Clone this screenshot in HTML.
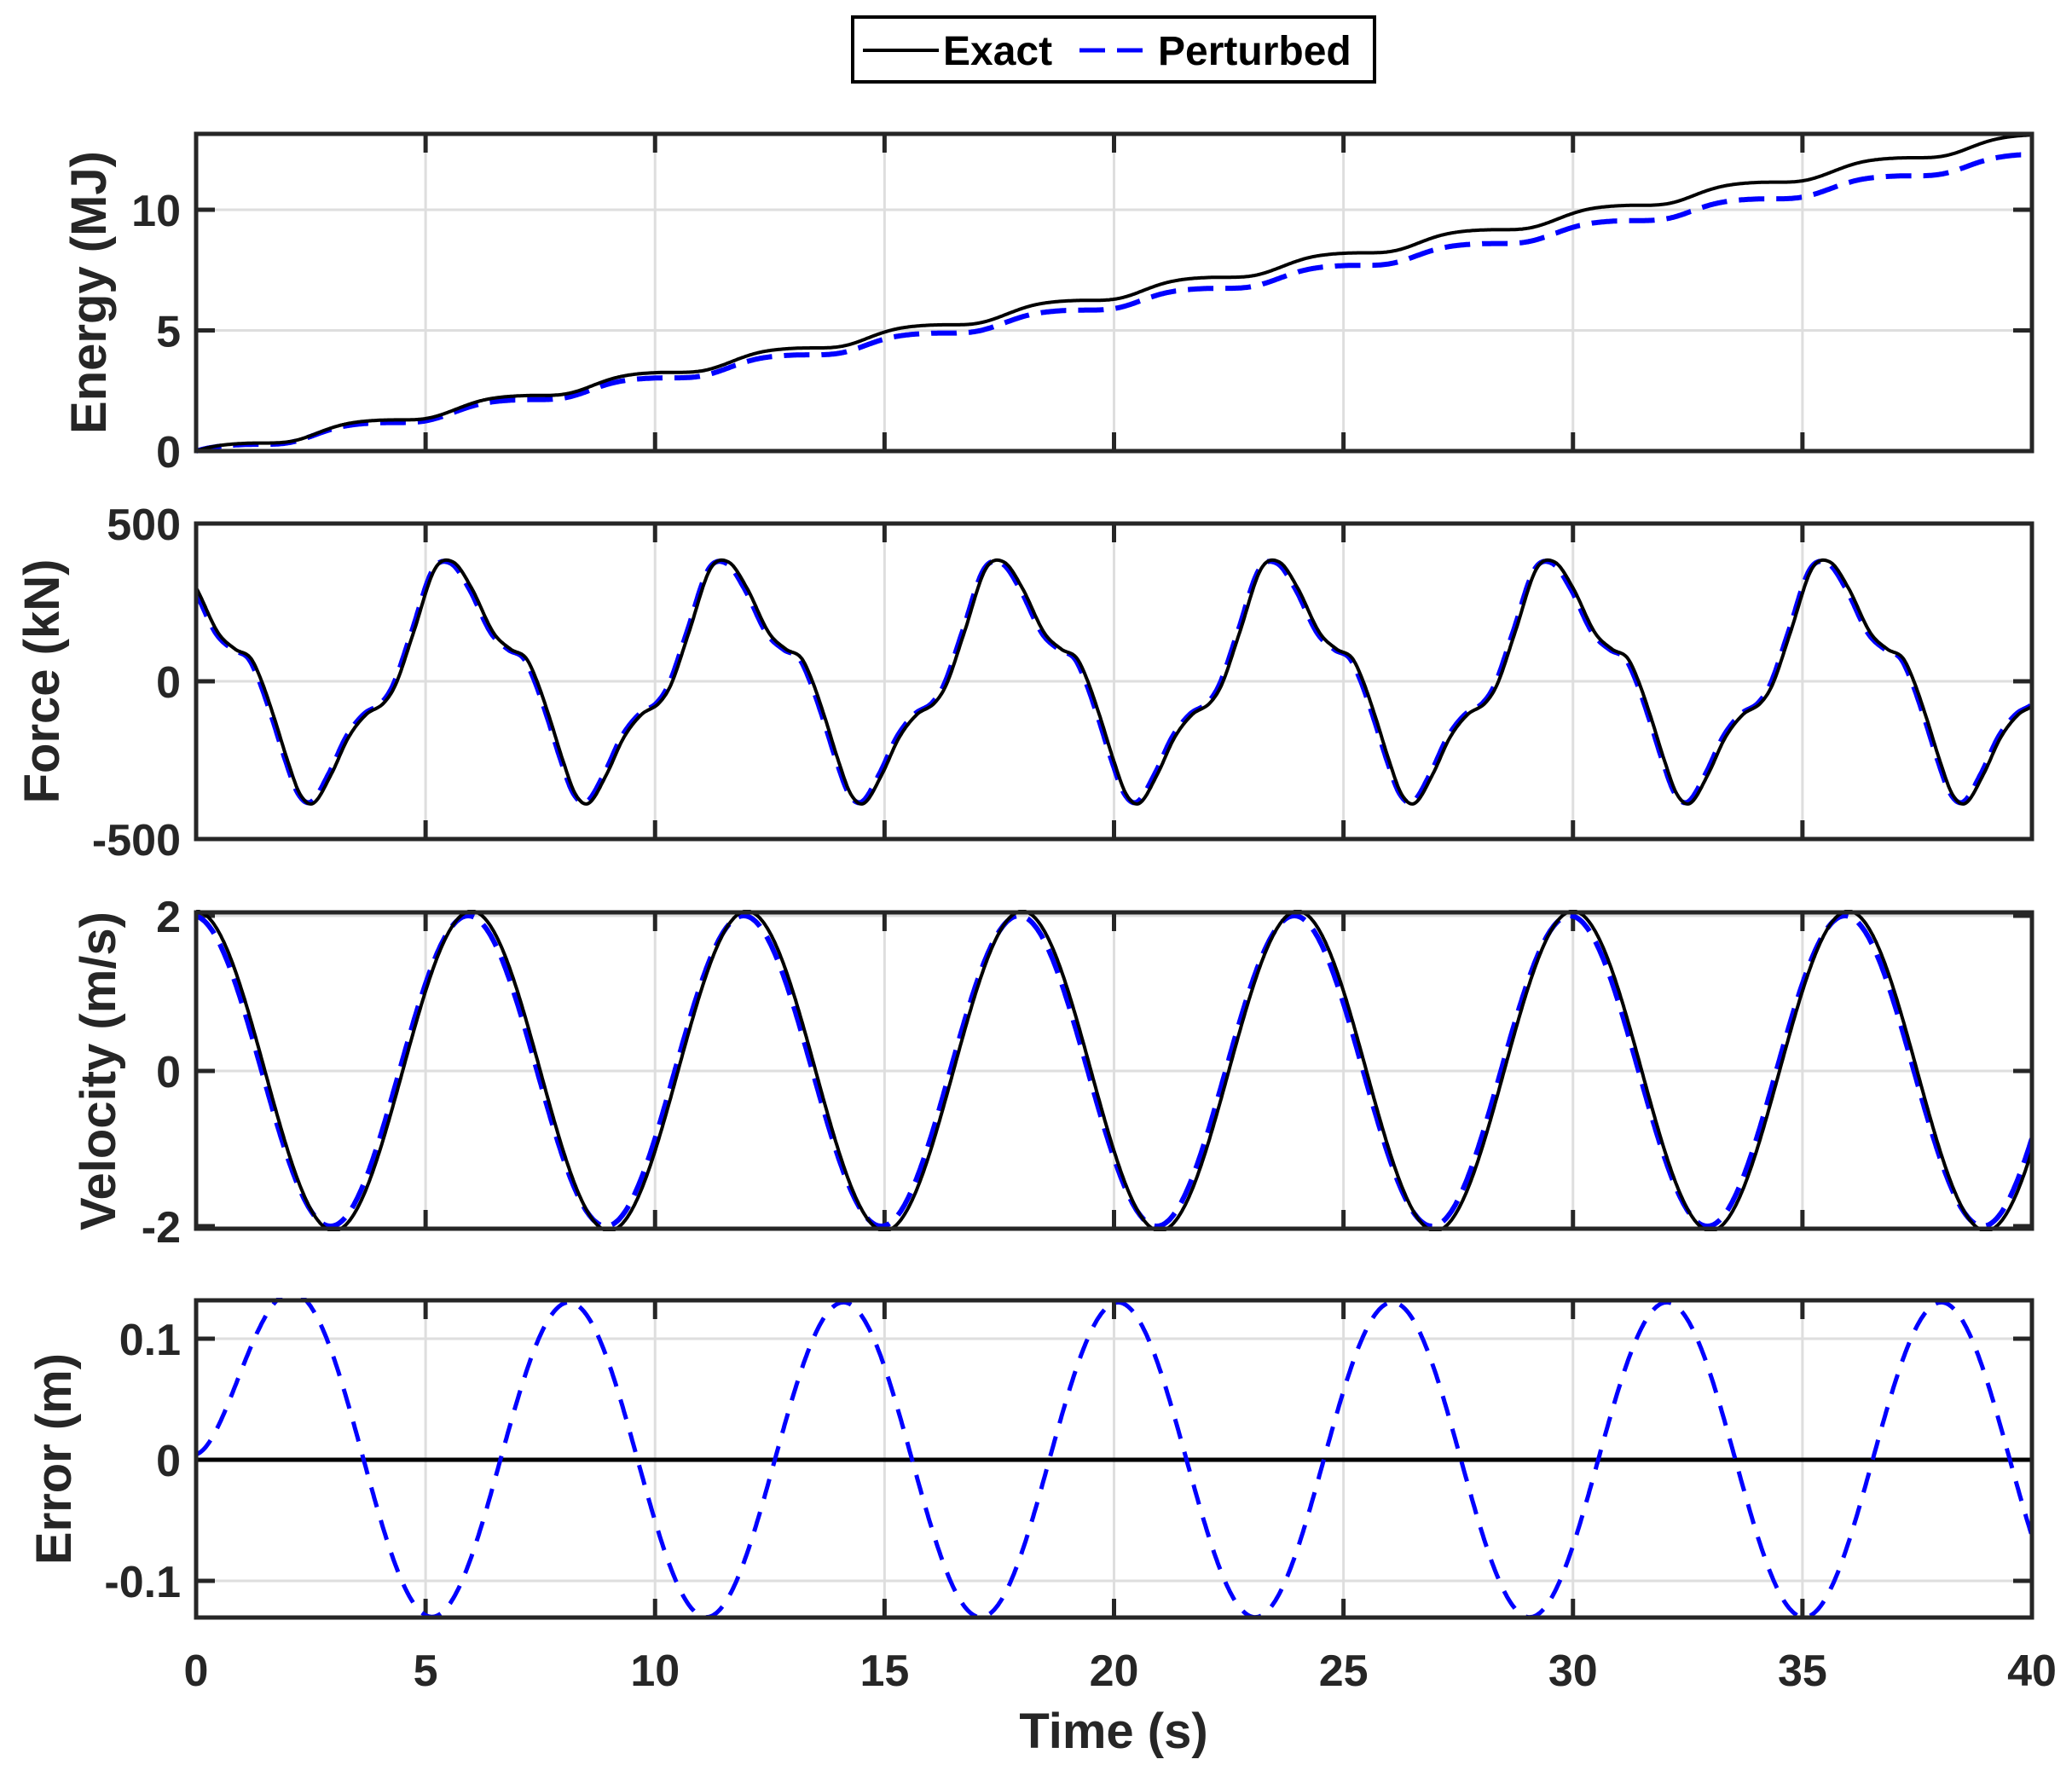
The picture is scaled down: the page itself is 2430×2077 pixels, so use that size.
<!DOCTYPE html>
<html><head><meta charset="utf-8"><style>
html,body{margin:0;padding:0;background:#fff;}
svg{display:block;}
text{font-family:"Liberation Sans",Arial,sans-serif;font-weight:bold;fill:#262626;}
</style></head><body>
<svg id="s" width="2430" height="2077" viewBox="0 0 2430 2077" xmlns="http://www.w3.org/2000/svg">
<rect width="2430" height="2077" fill="#fff"/>
<g id="g"></g>
<!-- legend -->
<rect x="1000" y="20" width="612" height="76" fill="#fff" stroke="#000" stroke-width="4"/>
<line x1="1012" y1="59" x2="1101" y2="59" stroke="#000" stroke-width="4"/>
<text x="1106" y="76" font-size="48" style="fill:#000">Exact</text>
<line x1="1266" y1="59" x2="1352" y2="59" stroke="#0000ff" stroke-width="5" stroke-dasharray="30,14"/>
<text x="1358" y="76" font-size="48" style="fill:#000">Perturbed</text>
<!-- axis labels -->
<text x="1306" y="2050" font-size="58" text-anchor="middle">Time (s)</text>
<text transform="translate(124,343) rotate(-90)" font-size="58" text-anchor="middle">Energy (MJ)</text>
<text transform="translate(69,799) rotate(-90)" font-size="58" text-anchor="middle">Force (kN)</text>
<text transform="translate(135,1256) rotate(-90)" font-size="58" text-anchor="middle">Velocity (m/s)</text>
<text transform="translate(83,1711) rotate(-90)" font-size="58" text-anchor="middle">Error (m)</text>
</svg>
<script>
const NS="http://www.w3.org/2000/svg";
const g=document.getElementById('g');
function el(n,a,p){const e=document.createElementNS(NS,n);for(const k in a)e.setAttribute(k,a[k]);(p||g).appendChild(e);return e;}
const X0=230,X1=2383;const px=t=>X0+(X1-X0)*t/40;
const pts=[[0,378],[0.4,296],[0.87,156],[1.25,102],[1.58,75],[1.82,3],[2.1,-115],[2.39,-250],[2.67,-359],[2.96,-386],[3.34,-296],[3.72,-178],[4.1,-106],[4.48,-70],[4.76,-6],[5.14,156],[5.6,355]];
const P=[];for(let k=-1;k<=2;k++)for(const p of pts)P.push([p[0]+6*k,p[1]]);
P.sort((a,b)=>a[0]-b[0]);
function F(t){let u=((t-5.6)%6+6)%6;let i=0;while(!(P[i][0]<=u&&P[i+1][0]>u))i++;
 const a=P[i],b=P[i+1],pa=P[i-1],nb=P[i+2];const h=b[0]-a[0];
 const ma=(b[1]-pa[1])/(b[0]-pa[0]),mb=(nb[1]-a[1])/(nb[0]-a[0]);const s=(u-a[0])/h;
 const h00=2*s*s*s-3*s*s+1,h10=s*s*s-2*s*s+s,h01=-2*s*s*s+3*s*s,h11=s*s*s-s*s;
 return h00*a[1]+h10*h*ma+h01*b[1]+h11*h*mb;}
const w=2*Math.PI/6;
const vE=t=>2.06*Math.cos(w*t), vP=t=>2.0*Math.cos(w*(t+0.07));
const fE=t=>F(t), fP=t=>0.99*F(t+0.05);
const err=t=>0.13*Math.sin(2*Math.PI*(t-0.65)/5.98)+0.0866*Math.exp(-t/0.9);
const N=4000,dt=40/N;const EE=[0],EP=[0];
for(let i=1;i<=N;i++){const t=(i-0.5)*dt;EE.push(EE[i-1]+Math.max(0,fE(t)*vE(t))*dt+0.05*Math.abs(fE(t)*vE(t))*dt);EP.push(EP[i-1]+Math.max(0,fP(t)*vP(t))*dt+0.05*Math.abs(fP(t)*vP(t))*dt);}
const sE=13.1/EE[N],sP=12.3/EP[N];
const panels=[
 {top:157,bot:529,ymap:v=>529-v*28.3,ticks:[[0,'0'],[5,'5'],[10,'10']]},
 {top:614,bot:984,ymap:v=>799-v*0.37,ticks:[[-500,'-500'],[0,'0'],[500,'500']]},
 {top:1070,bot:1441,ymap:v=>1256-v*91,ticks:[[-2,'-2'],[0,'0'],[2,'2']]},
 {top:1525,bot:1897,ymap:v=>1712-v*1420,ticks:[[-0.1,'-0.1'],[0,'0'],[0.1,'0.1']]}];
const series=[
 [i=>EE[i]*sE, i=>EP[i]*sP],
 [i=>fE(i*dt), i=>fP(i*dt)],
 [i=>vE(i*dt), i=>vP(i*dt)],
 [i=>0, i=>err(i*dt)]];
panels.forEach((p,k)=>{
 for(let t=5;t<40;t+=5)el('line',{x1:px(t),x2:px(t),y1:p.top,y2:p.bot,stroke:'#dedede','stroke-width':3});
 p.ticks.forEach(([v,l])=>{const y=p.ymap(v);
  if(y>p.top+3&&y<p.bot-3)el('line',{x1:X0,x2:X1,y1:y,y2:y,stroke:'#dedede','stroke-width':3});
  el('line',{x1:X0,x2:X0+22,y1:y,y2:y,stroke:'#262626','stroke-width':5});
  el('line',{x1:X1-22,x2:X1,y1:y,y2:y,stroke:'#262626','stroke-width':5});
  const tx=el('text',{x:212,y:y+19,'font-size':52,'text-anchor':'end'});tx.textContent=l;});
 for(let t=5;t<40;t+=5){el('line',{x1:px(t),x2:px(t),y1:p.top,y2:p.top+22,stroke:'#262626','stroke-width':5});
  el('line',{x1:px(t),x2:px(t),y1:p.bot-22,y2:p.bot,stroke:'#262626','stroke-width':5});}
 const cp=el('clipPath',{id:'c'+k});el('rect',{x:X0,y:p.top-3,width:X1-X0,height:p.bot-p.top+6},cp);
 const [a,b]=series[k];
 let dA='',dB='';for(let i=0;i<=N;i+=2){const x=px(i*dt).toFixed(1);dA+=(i?'L':'M')+x+','+p.ymap(a(i)).toFixed(1);dB+=(i?'L':'M')+x+','+p.ymap(b(i)).toFixed(1);}
 if(k<3){el('path',{d:dB,fill:'none',stroke:'#0000ff','stroke-width':6,'stroke-dasharray':'30,14','clip-path':'url(#c'+k+')'});
  el('path',{d:dA,fill:'none',stroke:'#000','stroke-width':4,'clip-path':'url(#c'+k+')'});}
 else{el('path',{d:dA,fill:'none',stroke:'#000','stroke-width':5});
  el('path',{d:dB,fill:'none',stroke:'#0000ff','stroke-width':5,'stroke-dasharray':'24,16','clip-path':'url(#c'+k+')'});}
 el('rect',{x:X0,y:p.top,width:X1-X0,height:p.bot-p.top,fill:'none',stroke:'#262626','stroke-width':5});
});
for(let t=0;t<=40;t+=5){const tx=el('text',{x:px(t),y:1977,'font-size':52,'text-anchor':'middle'});tx.textContent=t;}
</script>
</body></html>
